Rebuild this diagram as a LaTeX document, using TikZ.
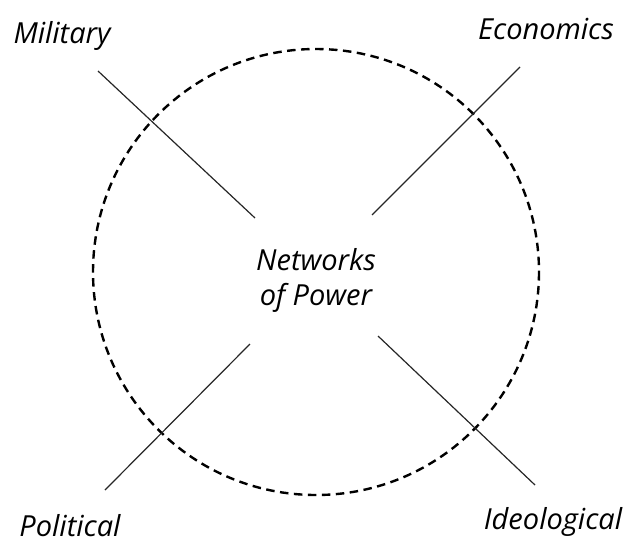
\documentclass[tikz,border=0pt]{standalone}
\usepackage{fontspec}
\setmainfont{Open Sans}
\begin{document}
\begin{tikzpicture}[x=1pt,y=-1pt,
  lbl/.style={font=\itshape\fontsize{29}{34}\selectfont, inner sep=0pt},
  spoke/.style={line width=1.2pt, black!85},
  ring/.style={line width=2.4pt, dash pattern=on 8.5pt off 5.5pt}]
\useasboundingbox (0,0) rectangle (623,544);
\node[lbl] (mil) at (62,36) {Military};
\node[lbl] (eco) at (546,29) {Economics};
\node[lbl] (pol) at (70,526) {Political};
\node[lbl] (ide) at (553,522) {Ideological};
\node[lbl, align=center, font=\itshape\fontsize{29}{35}\selectfont] (net) at (316,280) {Networks\\of Power};
\draw[ring] (316,272) circle (223);
\coordinate (m1) at (98,71);  \coordinate (m2) at (255,218);
\coordinate (e1) at (520,67); \coordinate (e2) at (372,215);
\coordinate (p1) at (105,490); \coordinate (p2) at (250,344);
\coordinate (i1) at (535,485); \coordinate (i2) at (378,336);
\draw[spoke] (m1) -- (m2);
\draw[spoke] (e1) -- (e2);
\draw[spoke] (p1) -- (p2);
\draw[spoke] (i1) -- (i2);
\end{tikzpicture}
\end{document}
